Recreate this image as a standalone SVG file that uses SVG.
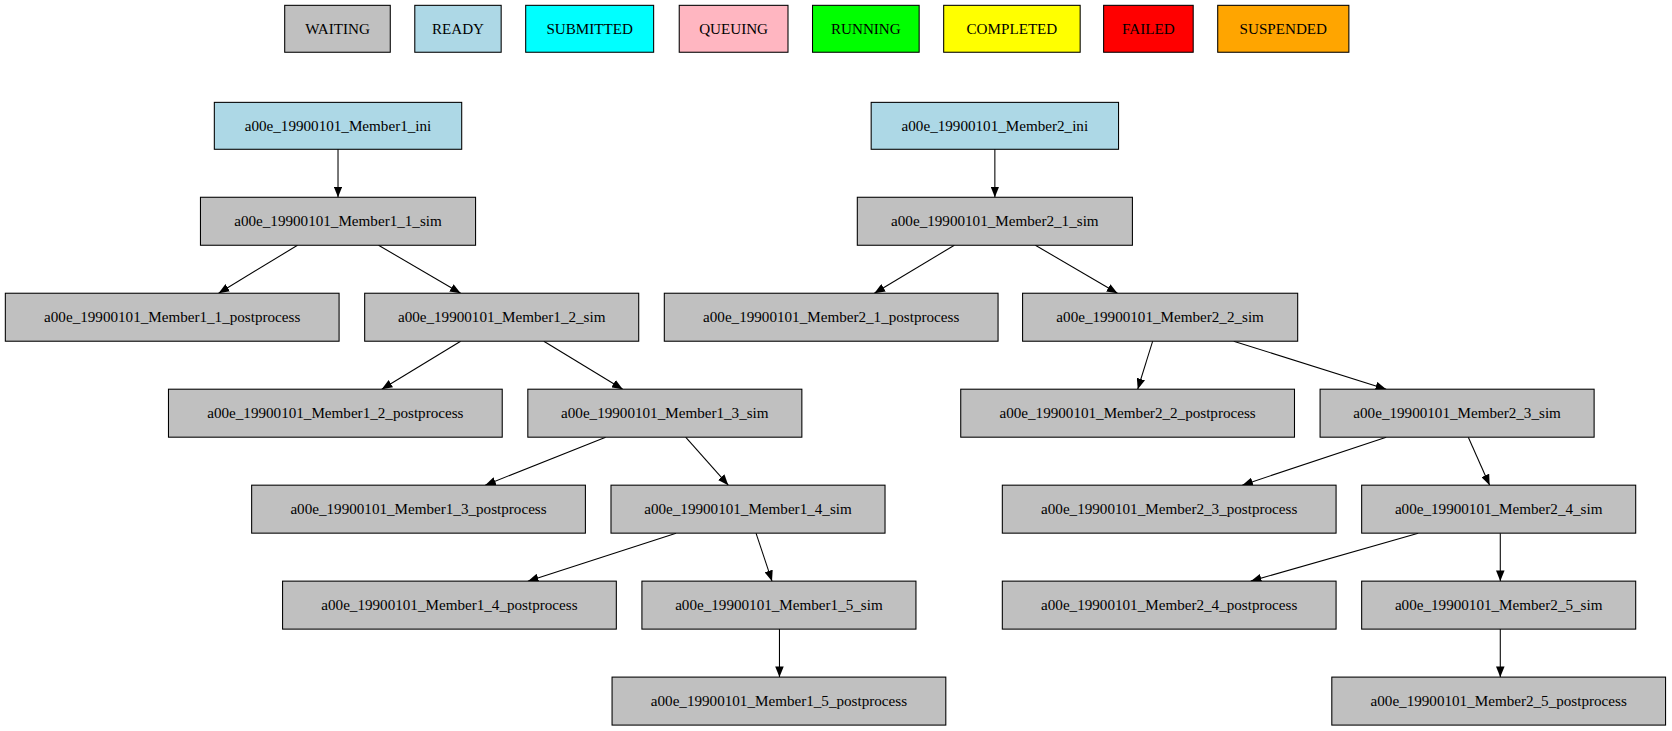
<svg xmlns="http://www.w3.org/2000/svg" width="1672" height="731" viewBox="0 0 1672 731">
<style>
rect{stroke:#000;stroke-width:1}
.w{fill:#c0c0c0}.r{fill:#add8e6}
text{font-family:"Liberation Serif",serif;font-size:14.2px;text-anchor:middle;dominant-baseline:central;fill:#000}
#edges line{stroke:#000;stroke-width:1;marker-end:url(#a)}
</style>
<defs><marker id="a" markerWidth="10" markerHeight="8" refX="10" refY="4" orient="auto" markerUnits="userSpaceOnUse"><path d="M0,0L10,4L0,8z" fill="#000"/></marker></defs>
<rect width="1672" height="731" fill="#fff" style="stroke:none"/>
<g transform="scale(1.0663)">
<g id="legend">
<g id="l-waiting"><rect class="w" x="267" y="5" width="99" height="44"/><text x="316.5" y="27">WAITING</text></g>
<g id="l-ready"><rect class="r" x="389" y="5" width="81" height="44"/><text x="429.5" y="27">READY</text></g>
<g id="l-submitted"><rect fill="#00ffff" x="493" y="5" width="120" height="44"/><text x="553" y="27">SUBMITTED</text></g>
<g id="l-queuing"><rect fill="#ffb6c1" x="637" y="5" width="102" height="44"/><text x="688" y="27">QUEUING</text></g>
<g id="l-running"><rect fill="#00ff00" x="762" y="5" width="100" height="44"/><text x="812" y="27">RUNNING</text></g>
<g id="l-completed"><rect fill="#ffff00" x="885" y="5" width="128" height="44"/><text x="949" y="27">COMPLETED</text></g>
<g id="l-failed"><rect fill="#ff0000" x="1035" y="5" width="84" height="44"/><text x="1077" y="27">FAILED</text></g>
<g id="l-suspended"><rect fill="#ffa500" x="1142" y="5" width="123" height="44"/><text x="1203.5" y="27">SUSPENDED</text></g>
</g>
<g id="edges">
<line x1="317" y1="140" x2="317" y2="185"/>
<line x1="279" y1="230" x2="205" y2="275"/>
<line x1="355" y1="230" x2="432" y2="275"/>
<line x1="432" y1="320" x2="358" y2="365"/>
<line x1="510" y1="320" x2="584" y2="365"/>
<line x1="568" y1="410" x2="455" y2="455"/>
<line x1="643" y1="410" x2="683" y2="455"/>
<line x1="634" y1="500" x2="495" y2="545"/>
<line x1="709" y1="500" x2="724" y2="545"/>
<line x1="731" y1="590" x2="731" y2="635"/>
<line x1="933" y1="140" x2="933" y2="185"/>
<line x1="895" y1="230" x2="820" y2="275"/>
<line x1="971" y1="230" x2="1048" y2="275"/>
<line x1="1081" y1="320" x2="1067" y2="365"/>
<line x1="1157" y1="320" x2="1300" y2="365"/>
<line x1="1300" y1="410" x2="1165" y2="455"/>
<line x1="1377" y1="410" x2="1397" y2="455"/>
<line x1="1330" y1="500" x2="1173" y2="545"/>
<line x1="1407" y1="500" x2="1407" y2="545"/>
<line x1="1407" y1="590" x2="1407" y2="635"/>
</g>
<g id="m1_ini"><rect class="r" x="201" y="96" width="232" height="44"/><text x="317" y="118">a00e_19900101_Member1_ini</text></g>
<g id="m2_ini"><rect class="r" x="817" y="96" width="232" height="44"/><text x="933" y="118">a00e_19900101_Member2_ini</text></g>
<g id="m1_1_sim"><rect class="w" x="188" y="185" width="258" height="45"/><text x="317" y="207.5">a00e_19900101_Member1_1_sim</text></g>
<g id="m2_1_sim"><rect class="w" x="804" y="185" width="258" height="45"/><text x="933" y="207.5">a00e_19900101_Member2_1_sim</text></g>
<g id="m1_1_post"><rect class="w" x="5" y="275" width="313" height="45"/><text x="161.5" y="297.5">a00e_19900101_Member1_1_postprocess</text></g>
<g id="m1_2_sim"><rect class="w" x="342" y="275" width="257" height="45"/><text x="470.5" y="297.5">a00e_19900101_Member1_2_sim</text></g>
<g id="m2_1_post"><rect class="w" x="623" y="275" width="313" height="45"/><text x="779.5" y="297.5">a00e_19900101_Member2_1_postprocess</text></g>
<g id="m2_2_sim"><rect class="w" x="959" y="275" width="258" height="45"/><text x="1088" y="297.5">a00e_19900101_Member2_2_sim</text></g>
<g id="m1_2_post"><rect class="w" x="158" y="365" width="313" height="45"/><text x="314.5" y="387.5">a00e_19900101_Member1_2_postprocess</text></g>
<g id="m1_3_sim"><rect class="w" x="495" y="365" width="257" height="45"/><text x="623.5" y="387.5">a00e_19900101_Member1_3_sim</text></g>
<g id="m2_2_post"><rect class="w" x="901" y="365" width="313" height="45"/><text x="1057.5" y="387.5">a00e_19900101_Member2_2_postprocess</text></g>
<g id="m2_3_sim"><rect class="w" x="1238" y="365" width="257" height="45"/><text x="1366.5" y="387.5">a00e_19900101_Member2_3_sim</text></g>
<g id="m1_3_post"><rect class="w" x="236" y="455" width="313" height="45"/><text x="392.5" y="477.5">a00e_19900101_Member1_3_postprocess</text></g>
<g id="m1_4_sim"><rect class="w" x="573" y="455" width="257" height="45"/><text x="701.5" y="477.5">a00e_19900101_Member1_4_sim</text></g>
<g id="m2_3_post"><rect class="w" x="940" y="455" width="313" height="45"/><text x="1096.5" y="477.5">a00e_19900101_Member2_3_postprocess</text></g>
<g id="m2_4_sim"><rect class="w" x="1277" y="455" width="257" height="45"/><text x="1405.5" y="477.5">a00e_19900101_Member2_4_sim</text></g>
<g id="m1_4_post"><rect class="w" x="265" y="545" width="313" height="45"/><text x="421.5" y="567.5">a00e_19900101_Member1_4_postprocess</text></g>
<g id="m1_5_sim"><rect class="w" x="602" y="545" width="257" height="45"/><text x="730.5" y="567.5">a00e_19900101_Member1_5_sim</text></g>
<g id="m2_4_post"><rect class="w" x="940" y="545" width="313" height="45"/><text x="1096.5" y="567.5">a00e_19900101_Member2_4_postprocess</text></g>
<g id="m2_5_sim"><rect class="w" x="1277" y="545" width="257" height="45"/><text x="1405.5" y="567.5">a00e_19900101_Member2_5_sim</text></g>
<g id="m1_5_post"><rect class="w" x="574" y="635" width="313" height="45"/><text x="730.5" y="657.5">a00e_19900101_Member1_5_postprocess</text></g>
<g id="m2_5_post"><rect class="w" x="1249" y="635" width="313" height="45"/><text x="1405.5" y="657.5">a00e_19900101_Member2_5_postprocess</text></g>
</g>
</svg>
